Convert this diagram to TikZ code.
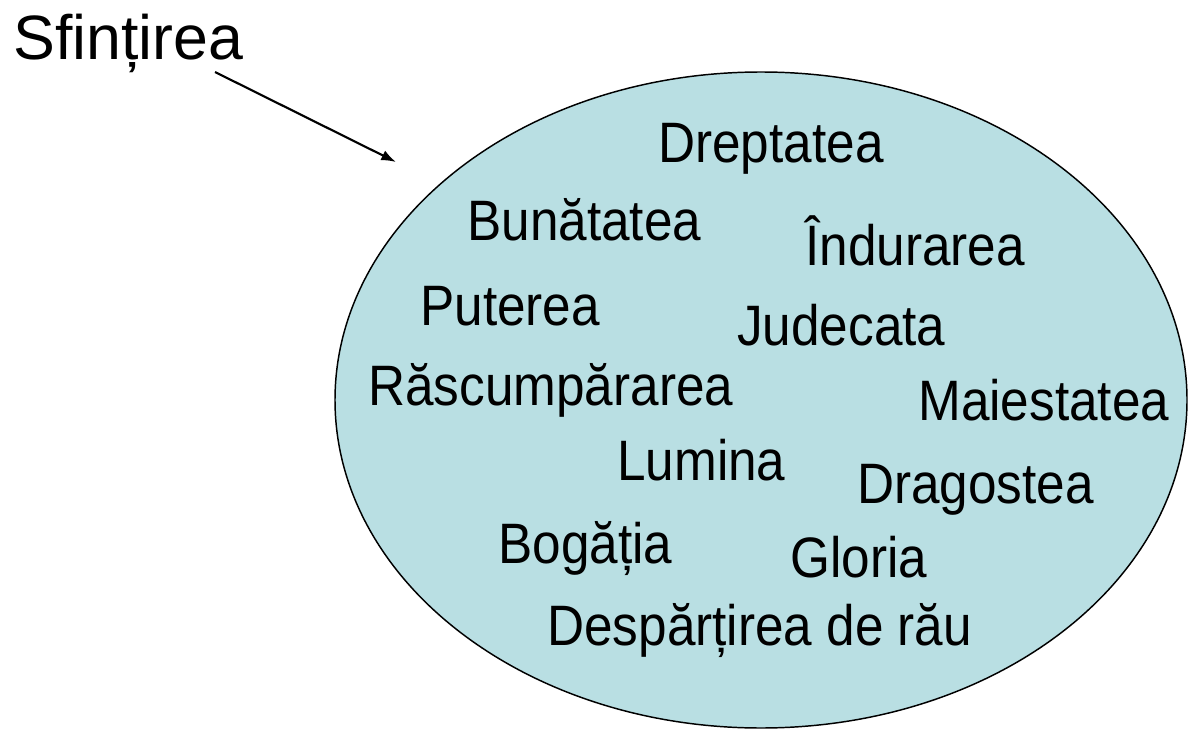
\documentclass[tikz,border=0pt]{standalone}
\usepackage{fontspec}
\setmainfont{Liberation Sans}
\usepackage{xcolor}
\usetikzlibrary{arrows.meta}
\definecolor{setblue}{RGB}{185,223,227}
\newcommand{\narrowtext}[1]{\scalebox{0.9}[1]{#1}}
\tikzset{
  virtue/.style={anchor=base west, inner sep=0pt, font=\fontsize{42.75}{48}\selectfont},
  title/.style={anchor=base west, inner sep=0pt, font=\fontsize{47}{52}\selectfont}
}

\begin{document}
\begin{tikzpicture}[x=0.75pt,y=0.75pt,yscale=-1,xscale=1]
    \useasboundingbox (0,0) rectangle (1189,731);

    %Shape: Ellipse [id:sfintirea-set]
    \draw [fill=setblue, line width=1.1pt] (761,400) ellipse (426 and 328);

    % Text Node
    \node [title] (sfintirea) at (13,60) {Sfințirea};
    %Arrow
    \coordinate (arrowtail) at (215,72);
    \coordinate (arrowhead) at (396,162);
    \draw [line width=1.6pt, -{Latex[length=11pt,width=8pt]}] (arrowtail) -- (arrowhead);

    % Text Node
    \node [virtue] (dreptatea) at (658,163) {\narrowtext{Dreptatea}};
    % Text Node
    \node [virtue] (bunatatea) at (467,240) {\narrowtext{Bunătatea}};
    % Text Node
    \node [virtue] (indurarea) at (805,265) {\narrowtext{Îndurarea}};
    % Text Node
    \node [virtue] (puterea) at (420,325) {\narrowtext{Puterea}};
    % Text Node
    \node [virtue] (judecata) at (737,345) {\narrowtext{Judecata}};
    % Text Node
    \node [virtue] (rascumpararea) at (368,405) {\narrowtext{Răscumpărarea}};
    % Text Node
    \node [virtue] (maiestatea) at (918,420) {\narrowtext{Maiestatea}};
    % Text Node
    \node [virtue] (lumina) at (617,480) {\narrowtext{Lumina}};
    % Text Node
    \node [virtue] (dragostea) at (857,503) {\narrowtext{Dragostea}};
    % Text Node
    \node [virtue] (bogatia) at (498,563) {\narrowtext{Bogăția}};
    % Text Node
    \node [virtue] (gloria) at (790,577) {\narrowtext{Gloria}};
    % Text Node
    \node [virtue] (despartirea) at (547,645) {\narrowtext{Despărțirea de rău}};

\end{tikzpicture}
\end{document}
